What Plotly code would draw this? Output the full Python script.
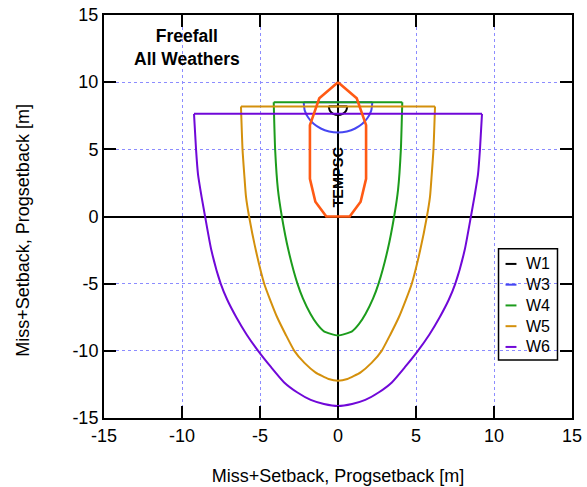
import plotly.graph_objects as go

# ---------------- data ----------------
series_names = ["W1", "W3", "W4", "W5", "W6"]
series_colors = ["#000000", "#4646f2", "#1c9c1c", "#d4900c", "#7008d8"]

# half-profiles of each envelope (bottom -> top): y value and half-width
w1_y = [7.55, 7.64, 7.87, 8.2]
w1_hw = [0.0, 0.30, 0.52, 0.60]

w3_y = [6.25, 6.33, 6.55, 6.90, 7.35, 7.88, 8.50]
w3_hw = [0.0, 0.57, 1.10, 1.56, 1.90, 2.13, 2.20]

w4_y = [-8.86, -8.55, -8.0, -7.24, -6.1, -5.0, -2.5, 0.0, 2.0, 5.0, 8.5]
w4_hw = [0.0, 0.90, 1.35, 1.77, 2.25, 2.60, 3.18, 3.60, 3.85, 4.03, 4.12]

w5_y = [-12.23, -12.1, -11.6, -10.9, -10.0, -8.8, -7.5, -6.2, -5.0, -2.5, 0.0, 1.5, 3.0, 5.0, 8.19]
w5_hw = [0.0, 0.60, 1.45, 2.15, 2.80, 3.35, 3.90, 4.35, 4.73, 5.27, 5.70, 5.90, 6.00, 6.12, 6.22]

w6_y = [-14.1, -13.95, -13.65, -13.1, -12.35, -11.2, -10.0, -8.8, -7.5, -6.2, -5.0, -2.5, 0.0, 1.5, 3.1, 5.0, 7.64]
w6_hw = [0.0, 0.90, 1.75, 2.60, 3.45, 4.30, 5.12, 5.85, 6.52, 7.10, 7.52, 8.12, 8.52, 8.75, 8.97, 9.10, 9.23]

tempsc_x = [0.0, 1.2, 1.8, 1.8, 1.45, 0.75, -0.75, -1.45, -1.8, -1.8, -1.2, 0.0]
tempsc_y = [10.0, 8.8, 6.8, 2.8, 1.1, 0.0, 0.0, 1.1, 2.8, 6.8, 8.8, 10.0]
tempsc_color = "#ff5a14"

x_ticks = [-15, -10, -5, 0, 5, 10, 15]
y_ticks = [-15, -10, -5, 0, 5, 10, 15]

profiles = [(w1_y, w1_hw), (w3_y, w3_hw), (w4_y, w4_hw), (w5_y, w5_hw), (w6_y, w6_hw)]


def u_curve(ys, hws):
    # right side from top down to the bottom, then left side back up to the top
    xs, yy = [], []
    for i in range(len(ys) - 1, -1, -1):
        xs.append(hws[i])
        yy.append(ys[i])
    for i in range(1, len(ys)):
        xs.append(-hws[i])
        yy.append(ys[i])
    return xs, yy


fig = go.Figure()

FONT = "Liberation Sans, Arial, Helvetica, sans-serif"

for name, color, (ys, hws) in zip(series_names, series_colors, profiles):
    # straight top edge
    fig.add_trace(go.Scatter(x=[-hws[-1], hws[-1]], y=[ys[-1], ys[-1]], mode="lines",
                             name=name, line=dict(color=color, width=2), showlegend=False))
    # smooth U-shaped envelope
    xs, yy = u_curve(ys, hws)
    fig.add_trace(go.Scatter(x=xs, y=yy, mode="lines", name=name,
                             line=dict(color=color, width=2, shape="spline", smoothing=0.5),
                             showlegend=False))

fig.add_trace(go.Scatter(x=tempsc_x, y=tempsc_y, mode="lines", name="TEMPSC",
                         line=dict(color=tempsc_color, width=2.6), showlegend=False))

# TEMPSC label
fig.add_annotation(x=0, y=2.9, xref="x", yref="y", text="<b>TEMPSC</b>",
                   textangle=-90, showarrow=False,
                   font=dict(family=FONT, size=14.5, color="black"))

# title block
fig.add_annotation(x=-9.65, y=12.6, xref="x", yref="y",
                   text="<b>Freefall</b><br><b>All Weathers</b>",
                   showarrow=False, align="center",
                   font=dict(family=FONT, size=17.5, color="black"))

# manual legend (transparent box)
fig.add_shape(type="rect", xref="x", yref="y", x0=10.29, x1=14.07, y0=-10.69, y1=-2.41,
              line=dict(color="black", width=1.5), fillcolor="rgba(0,0,0,0)", layer="above")
for i, (name, color) in enumerate(zip(series_names, series_colors)):
    yy = -3.53 - 1.545 * i
    fig.add_shape(type="line", xref="x", yref="y", x0=10.74, x1=11.44, y0=yy, y1=yy,
                  line=dict(color=color, width=2), layer="above")
    fig.add_annotation(x=11.94, y=yy, xref="x", yref="y", text=name, showarrow=False,
                       xanchor="left", yanchor="middle",
                       font=dict(family=FONT, size=16, color="black"))

# y-axis title (placed slightly below the plot centre, as in the reference)
fig.add_annotation(x=-0.1737, y=0.4665, xref="paper", yref="paper",
                   text="Miss+Setback, Progsetback [m]", textangle=-90, showarrow=False,
                   xanchor="center", yanchor="middle",
                   font=dict(family=FONT, size=18, color="black"))

axis_common = dict(
    range=[-15, 15], showline=True, linecolor="black", linewidth=2, mirror="ticks",
    ticks="inside", ticklen=12, tickwidth=2, tickcolor="black",
    showgrid=True, gridcolor="#8c8cff", gridwidth=1, griddash="dot",
    zeroline=True, zerolinecolor="black", zerolinewidth=2,
    tickfont=dict(family=FONT, size=18, color="black"),
    fixedrange=True,
)

fig.update_xaxes(**axis_common, tickvals=x_ticks, ticktext=[str(v) for v in x_ticks],
                 title=dict(text="Miss+Setback, Progsetback [m]", standoff=25,
                            font=dict(family=FONT, size=18, color="black")))
fig.update_yaxes(**axis_common, tickvals=y_ticks, ticktext=[str(v) for v in y_ticks])

fig.update_layout(
    width=587, height=487,
    margin=dict(l=104, r=15, t=15, b=69, autoexpand=False),
    plot_bgcolor="white", paper_bgcolor="white",
    showlegend=False,
)

# remove the default page margin so the 587x487 figure fills the window exactly
fig.write_html("out.html",
               config={"displayModeBar": False, "staticPlot": True},
               post_script="document.body.style.margin='0px';"
                           "document.body.style.overflow='hidden';")
